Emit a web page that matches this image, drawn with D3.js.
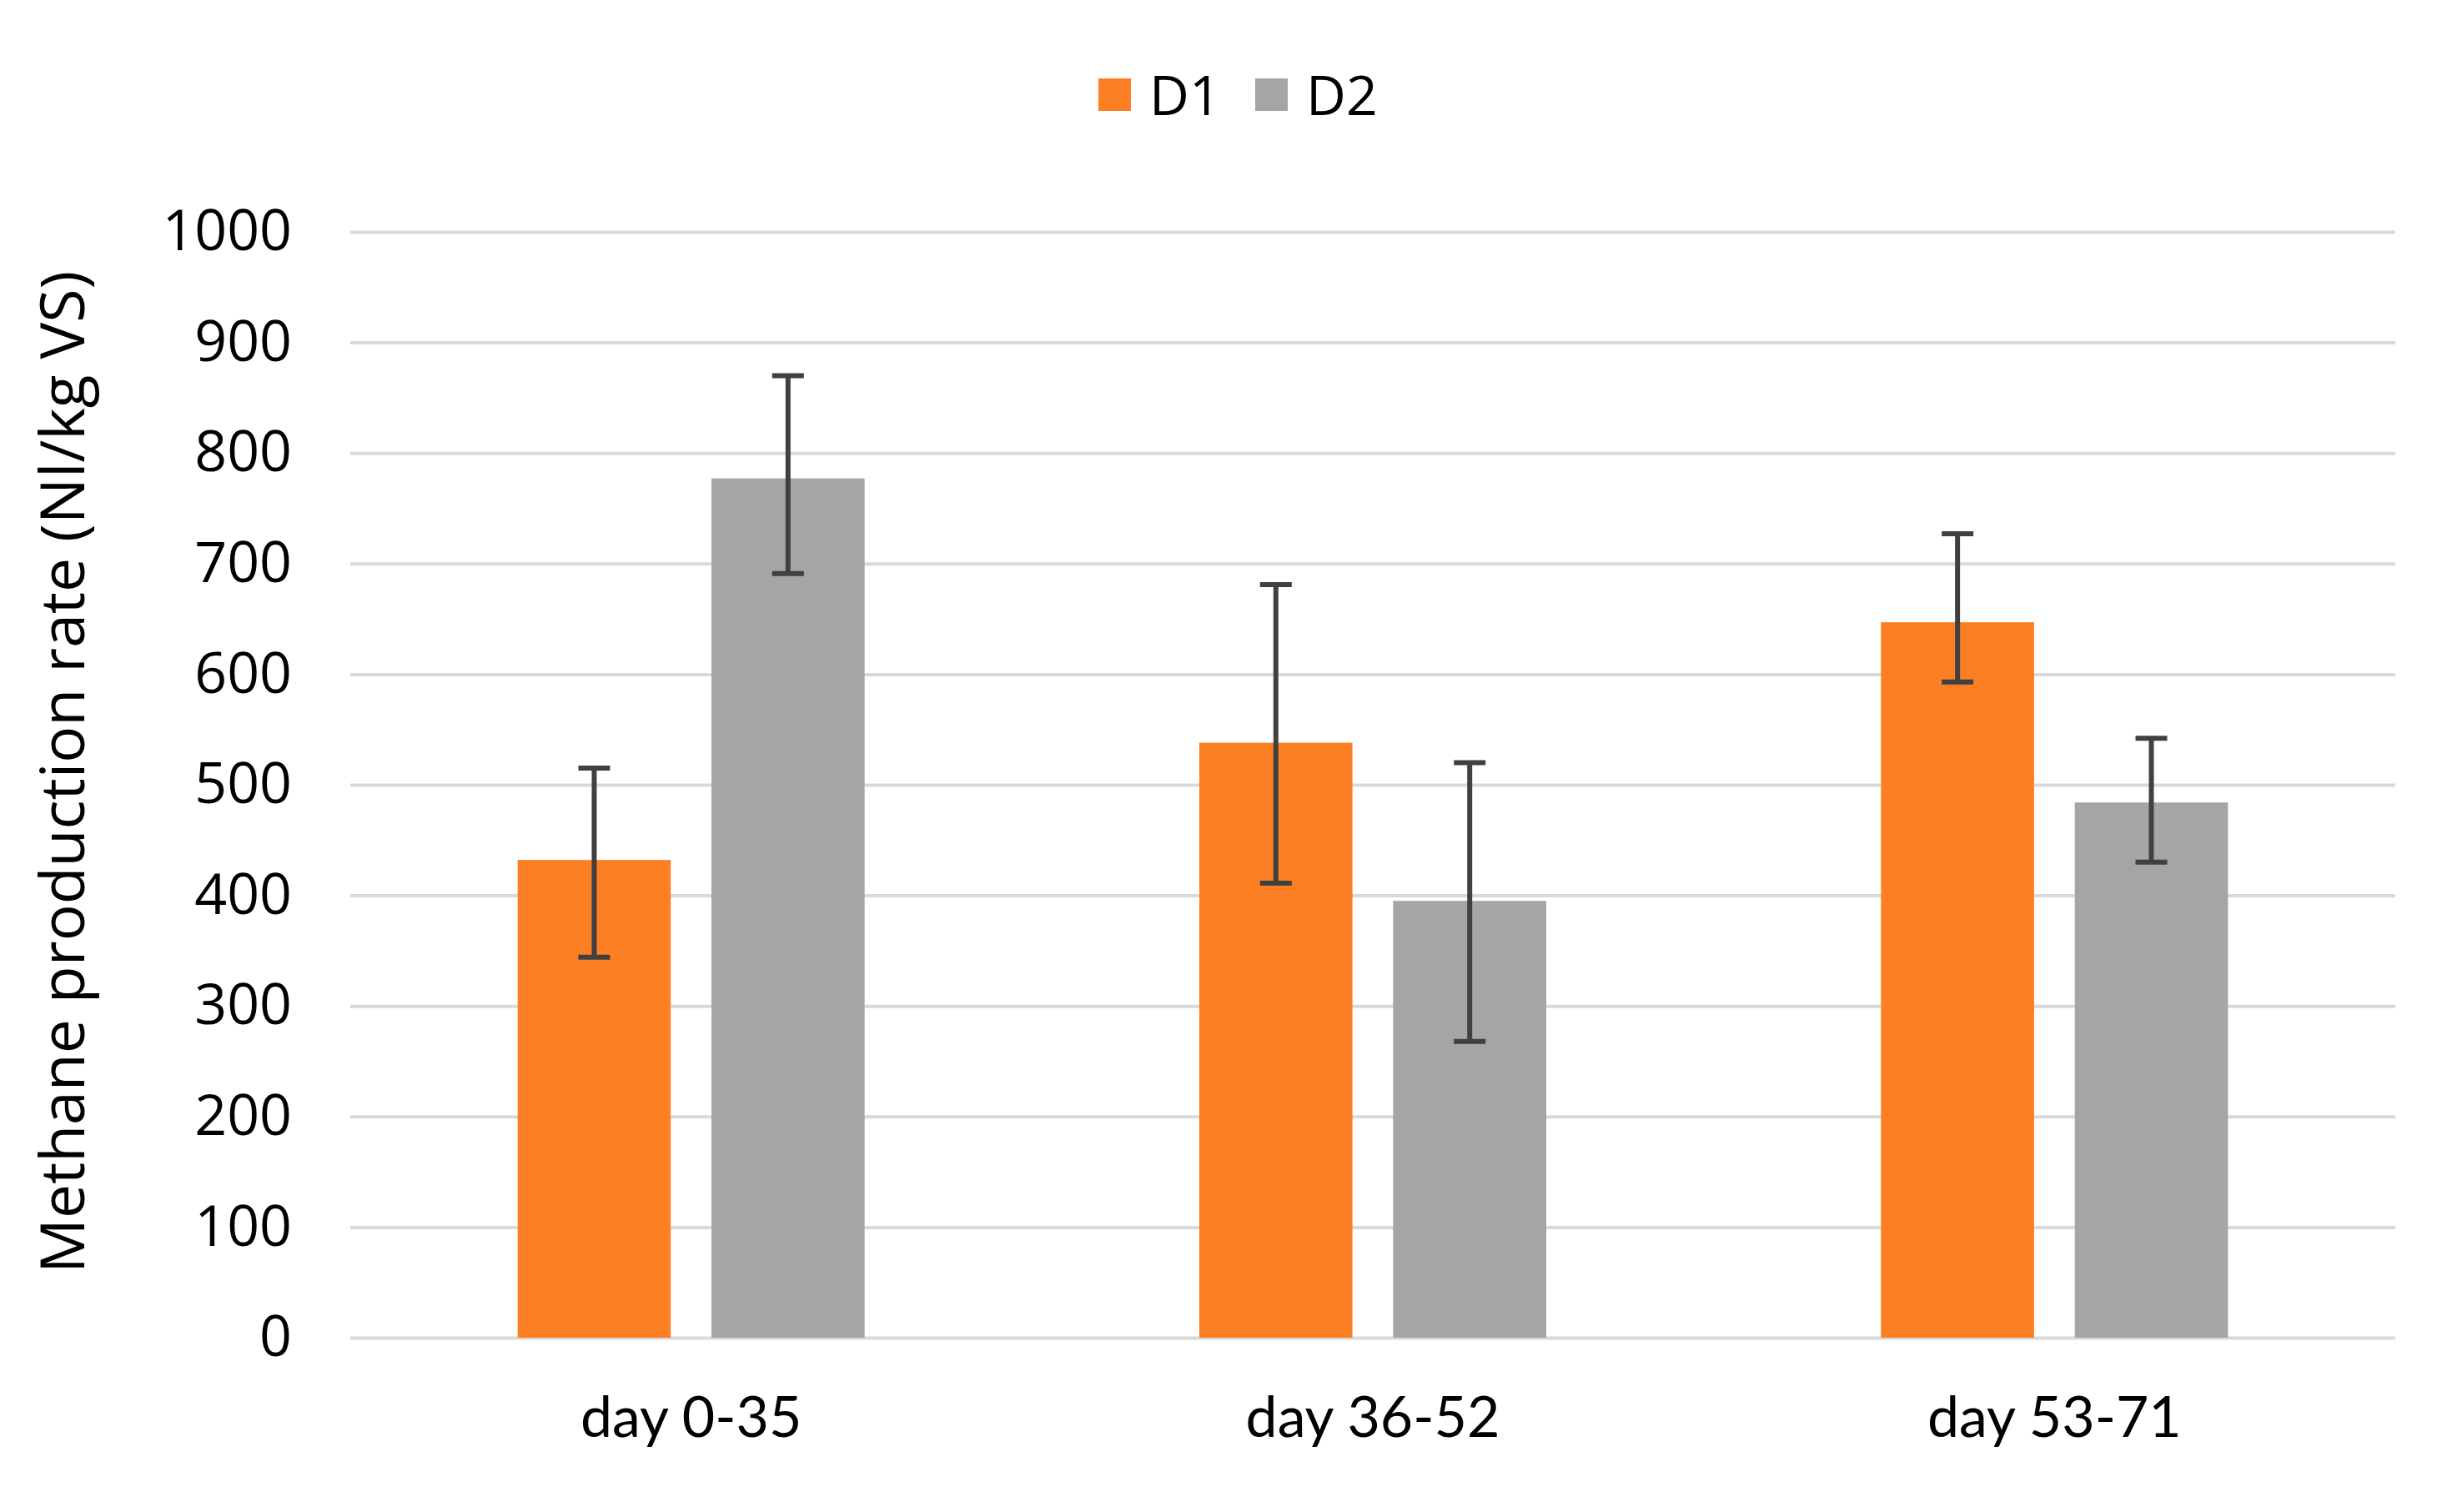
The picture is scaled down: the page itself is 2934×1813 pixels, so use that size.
<!DOCTYPE html>
<html>
<head>
<meta charset="utf-8">
<script src="https://cdn.jsdelivr.net/npm/d3@7"></script>
<style>
  body { margin: 0; background: #fff; }
</style>
</head>
<body>
<div id="chart"></div>
<script>
// data
const categories = ["day 0-35", "day 36-52", "day 53-71"];
const series = ["D1", "D2"];
const d1Values = [432, 538, 647];
const d2Values = [777, 395, 484];
// error bar ends (upper / lower)
const d1ErrHigh = [515, 681, 727];
const d1ErrLow = [344, 411, 593];
const d2ErrHigh = [870, 520, 542];
const d2ErrLow = [691, 268, 430];
const yTicks = [0, 100, 200, 300, 400, 500, 600, 700, 800, 900, 1000];

const colors = { D1: "#fd7f24", D2: "#a5a5a5" };

const W = 2934, H = 1813;
const plot = { left: 420, right: 2872, top: 278, bottom: 1604 };

// rows built from the arrays above
const rows = [];
categories.forEach((c, i) => {
  rows.push({ cat: c, s: "D1", v: d1Values[i], hi: d1ErrHigh[i], lo: d1ErrLow[i] });
  rows.push({ cat: c, s: "D2", v: d2Values[i], hi: d2ErrHigh[i], lo: d2ErrLow[i] });
});

const svg = d3.select("#chart").append("svg")
  .attr("width", W)
  .attr("height", H)
  .style("display", "block");

svg.append("rect").attr("width", W).attr("height", H).attr("fill", "#fff");

const y = d3.scaleLinear().domain([0, 1000]).range([plot.bottom, plot.top]);
const x0 = d3.scaleBand().domain(categories).range([plot.left, plot.right]);
const x1 = d3.scaleBand().domain(series)
  .range([x0.bandwidth() / 2 - 208, x0.bandwidth() / 2 + 208])
  .paddingInner(0.21);

//===== gridlines + y labels =====
const yAxis = d3.axisLeft(y)
  .tickValues(yTicks)
  .tickSize(-(plot.right - plot.left))
  .tickPadding(70)
  .tickFormat(d3.format("d"));

const gy = svg.append("g")
  .attr("transform", `translate(${plot.left},0)`)
  .call(yAxis);
gy.select(".domain").remove();
gy.selectAll(".tick line").attr("stroke", "#d9d9d9").attr("stroke-width", 4);
gy.selectAll(".tick text")
  .attr("font-family", "'Open Sans', sans-serif")
  .attr("font-size", 68)
  .attr("fill", "#000");

//===== bars =====
svg.append("g").selectAll("rect")
  .data(rows)
  .enter()
  .append("rect")
  .attr("x", d => x0(d.cat) + x1(d.s))
  .attr("y", d => y(d.v))
  .attr("width", x1.bandwidth())
  .attr("height", d => y(0) - y(d.v))
  .attr("fill", d => colors[d.s]);

//===== error bars =====
const eg = svg.append("g").attr("stroke", "#404040").attr("stroke-width", 6);
const cap = 19;
rows.forEach(d => {
  const cx = x0(d.cat) + x1(d.s) + x1.bandwidth() / 2;
  eg.append("line").attr("x1", cx).attr("x2", cx).attr("y1", y(d.hi)).attr("y2", y(d.lo));
  eg.append("line").attr("x1", cx - cap).attr("x2", cx + cap).attr("y1", y(d.hi)).attr("y2", y(d.hi));
  eg.append("line").attr("x1", cx - cap).attr("x2", cx + cap).attr("y1", y(d.lo)).attr("y2", y(d.lo));
});

//===== x labels =====
const xAxis = d3.axisBottom(x0).tickSize(0).tickPadding(0);
const gx = svg.append("g")
  .attr("transform", `translate(0,${plot.bottom})`)
  .call(xAxis);
gx.select(".domain").remove();
gx.selectAll(".tick text")
  .attr("dy", null)
  .attr("y", 119)
  .attr("font-family", "Lato, sans-serif")
  .attr("font-size", 68)
  .attr("fill", "#000");

//===== y title =====
svg.append("text")
  .attr("transform", "translate(101,926) rotate(-90)")
  .attr("text-anchor", "middle")
  .attr("font-family", "'Open Sans', sans-serif")
  .attr("font-size", 73)
  .attr("fill", "#000")
  .attr("textLength", 1202)
  .attr("lengthAdjust", "spacingAndGlyphs")
  .text("Methane production rate (Nl/kg VS)");

//===== legend =====
const legend = svg.append("g");
const legendX = [1317, 1505];
series.forEach((s, i) => {
  legend.append("rect")
    .attr("x", legendX[i]).attr("y", 94)
    .attr("width", 39).attr("height", 39)
    .attr("fill", colors[s]);
  legend.append("text")
    .attr("x", legendX[i] + 61).attr("y", 138)
    .attr("font-family", "'Open Sans', sans-serif")
    .attr("font-size", 66)
    .attr("fill", "#000")
    .text(s);
});
</script>
</body>
</html>
